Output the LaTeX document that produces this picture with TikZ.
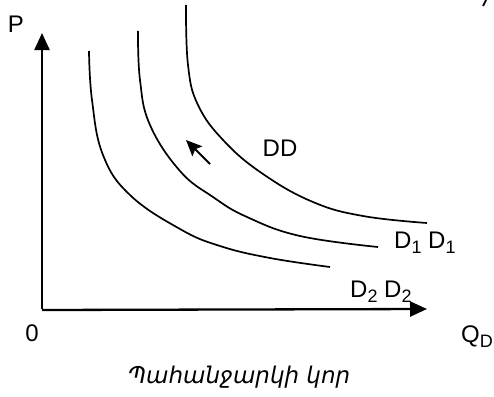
\documentclass[tikz,border=0pt]{standalone}
\usepackage{fontspec}
\setmainfont{Liberation Sans}
\newfontfamily\armfont{DejaVu Sans}
\usetikzlibrary{arrows.meta}
\newcommand\lowsub[1]{\raisebox{-0.22em}{\fontsize{18}{18}\selectfont #1}}
\begin{document}
\begin{tikzpicture}[x=1pt,y=-1pt,
  lbl/.style={inner sep=0pt,font=\fontsize{24}{26}\selectfont},
  axis/.style={line width=2.3pt,-{Triangle[length=17pt,width=15pt]}},
  curve/.style={line width=1.7pt},
  shiftarrow/.style={line width=1.8pt,-{Stealth[length=16pt,width=14pt,inset=3pt]}}]
\useasboundingbox (0,0) rectangle (494,396);
\clip (0,0) rectangle (494,396);
% axes
\coordinate (O) at (42,310);
\coordinate (Ptip) at (42,33);
\coordinate (Qtip) at (427,309);
\draw[axis] (42,309) -- (Ptip);
\draw[axis] (O) -- (Qtip);
% curves
\draw[curve] plot[smooth,tension=0.7] coordinates {(186,5) (188,65) (198,105) (224,141) (263,174) (313,202) (363,216) (427,223)};
\draw[curve] plot[smooth,tension=0.7] coordinates {(138,31) (140,80) (150,125) (180,171) (213,197) (247,217) (300,236) (378,247)};
\draw[curve] plot[smooth,tension=0.7] coordinates {(89,51) (92,100) (103,155) (130,195) (180,229) (220,246) (270,258) (330,267)};
% shift arrow
\coordinate (atail) at (210,164);
\coordinate (ahead) at (186,140);
\draw[shiftarrow] (atail) -- (ahead);
% small mark top right
\coordinate (m1) at (486,0);
\coordinate (m2) at (483,6);
\draw[line width=1.8pt] (m1) -- (m2);
% labels
\node[lbl] (P) at (16,24) {P};
\node[lbl] (zero) at (32,333) {0};
\node[lbl,anchor=base west] (Q) at (461,342) {Q\lowsub{D}};
\node[lbl] (DD) at (280,148) {DD};
\node[lbl,anchor=base west] (D1) at (394,248) {D\lowsub{1} D\lowsub{1}};
\node[lbl,anchor=base west] (D2) at (350,297) {D\lowsub{2} D\lowsub{2}};
\node[inner sep=0pt,font=\armfont\itshape\fontsize{23}{25}\selectfont] (cap) at (239,377) {Պահանջարկի կոր};
\end{tikzpicture}
\end{document}
